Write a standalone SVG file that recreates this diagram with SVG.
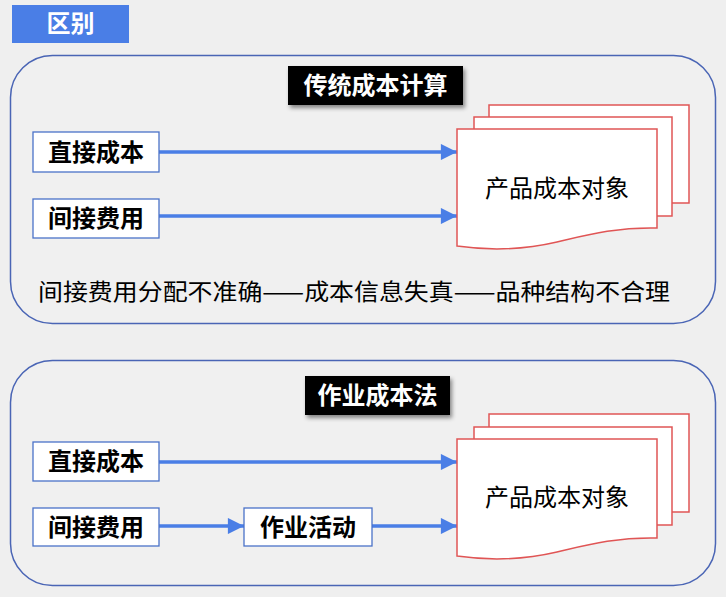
<svg xmlns="http://www.w3.org/2000/svg" width="726" height="597" viewBox="0 0 726 597">
<style>
.panel{fill:#f0f0f0;stroke:#4a65b5;stroke-width:1.5}
.box{fill:#fff;stroke:#4a72c8;stroke-width:1.3}
.lbl{font-family:"Noto Sans CJK SC","Noto Sans",sans-serif;font-weight:bold;font-size:24px;fill:#000;text-anchor:middle}
.ttl{font-family:"Noto Sans CJK SC","Noto Sans",sans-serif;font-weight:bold;font-size:24px;fill:#fff;text-anchor:middle}
.doc{fill:#fff;stroke:#e05555;stroke-width:1.5}
.doct{font-family:"Noto Sans CJK SC","Noto Sans",sans-serif;font-size:24px;fill:#000;text-anchor:middle}
.arr{stroke:#4a7ee6;stroke-width:3.5;fill:none;marker-end:url(#ah)}
</style>
<defs>
<marker id="ah" viewBox="0 0 10 10" refX="10" refY="5" markerWidth="5.4" markerHeight="4.6" markerUnits="strokeWidth" orient="auto">
<path d="M0,0 L10,5 L0,10 Z" fill="#4a7ee6"/>
</marker>
<filter id="sh" x="-10%" y="-20%" width="125%" height="150%">
<feDropShadow dx="2" dy="3" stdDeviation="2" flood-color="#000" flood-opacity="0.45"/>
</filter>
<path id="docshape" d="M0,0 H200 V99 C160,98 130,106 100,113 C70,120 35,122 0,117 Z"/>
</defs>
<rect width="726" height="597" fill="#efefef"/>
<g id="header">
<rect x="12" y="5" width="117" height="38" fill="#4a7ee6"/>
<text x="70.5" y="32" class="ttl">区别</text>
</g>
<g id="panel1">
<rect x="10.5" y="55.5" width="705" height="268" rx="42" class="panel"/>
</g>
<g id="panel2">
<rect x="10.5" y="360.5" width="705" height="225" rx="42" class="panel"/>
</g>
<g id="title1">
<rect x="288" y="66" width="175" height="39" fill="#000" filter="url(#sh)"/>
<text x="375.5" y="94" class="ttl">传统成本计算</text>
</g>
<g id="title2">
<rect x="305" y="376" width="145" height="39" fill="#000" filter="url(#sh)"/>
<text x="377.5" y="404" class="ttl">作业成本法</text>
</g>
<g id="connectors">
<line x1="159" y1="152" x2="457" y2="152" class="arr"/>
<line x1="159" y1="216" x2="457" y2="216" class="arr"/>
<line x1="159" y1="462" x2="457" y2="462" class="arr"/>
<line x1="159" y1="526" x2="244" y2="526" class="arr"/>
<line x1="372" y1="526" x2="457" y2="526" class="arr"/>
</g>
<g id="direct1">
<rect x="33" y="132" width="126" height="40" class="box"/>
<text x="96" y="161" class="lbl">直接成本</text>
</g>
<g id="indirect1">
<rect x="33" y="199" width="126" height="39" class="box"/>
<text x="96" y="227" class="lbl">间接费用</text>
</g>
<g id="product1">
<rect x="489" y="105" width="200" height="98" class="doc"/>
<rect x="474" y="117" width="198" height="99" class="doc"/>
<use href="#docshape" x="457" y="129" class="doc"/>
<text x="557" y="197" class="doct">产品成本对象</text>
</g>
<g id="note">
<text x="38" y="300" font-family="'Noto Sans CJK SC','Noto Sans',sans-serif" font-size="23" fill="#000" textLength="632" lengthAdjust="spacingAndGlyphs">间接费用分配不准确——成本信息失真——品种结构不合理</text>
</g>
<g id="direct2">
<rect x="33" y="442" width="126" height="39" class="box"/>
<text x="96" y="470" class="lbl">直接成本</text>
</g>
<g id="indirect2">
<rect x="33" y="508" width="126" height="38" class="box"/>
<text x="96" y="536" class="lbl">间接费用</text>
</g>
<g id="activity">
<rect x="244" y="508" width="128" height="38" class="box"/>
<text x="308" y="536" class="lbl">作业活动</text>
</g>
<g id="product2">
<rect x="489" y="414" width="200" height="98" class="doc"/>
<rect x="474" y="427" width="198" height="98" class="doc"/>
<use href="#docshape" x="457" y="439" class="doc"/>
<text x="557" y="506" class="doct">产品成本对象</text>
</g>
</svg>
